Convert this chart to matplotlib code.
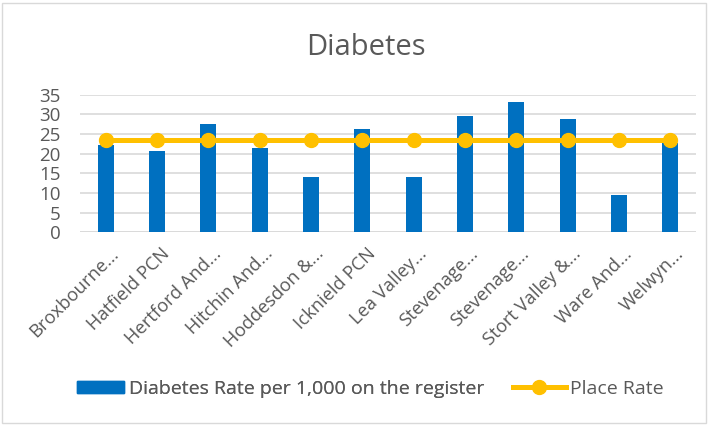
import matplotlib
matplotlib.use("Agg")
import matplotlib.pyplot as plt
from matplotlib.patches import Rectangle
from matplotlib.lines import Line2D
from matplotlib.transforms import ScaledTranslation

plt.rcParams['font.family'] = ['Open Sans', 'DejaVu Sans']

categories = ["Broxbourne...", "Hatfield PCN", "Hertford And...", "Hitchin And...",
              "Hoddesdon &...", "Icknield PCN", "Lea Valley...", "Stevenage...",
              "Stevenage...", "Stort Valley &...", "Ware And...", "Welwyn..."]
diabetes_rate = [22.2, 20.7, 27.6, 21.4, 14.0, 26.4, 14.1, 29.6, 33.2, 28.7, 9.5, 22.7]
place_rate = [23.6] * 12
yticks = [0, 5, 10, 15, 20, 25, 30, 35]

BLUE = "#0070C0"
GOLD = "#FFC000"
GREY_TXT = "#595959"
GRID = "#D9D9D9"

W, H = 709, 425
fig = plt.figure(figsize=(W / 100, H / 100), dpi=100)
ax = fig.add_axes([80 / W, 1 - 232.3 / H, 616 / W, 137.6 / H])

x = list(range(len(categories)))
ax.bar(x, diabetes_rate, width=0.31, color=BLUE, zorder=2)
ax.plot(x, place_rate, color=GOLD, lw=3.6, marker='o', markersize=10, zorder=3)

ax.set_xlim(-0.5, len(categories) - 0.5)
ax.set_ylim(0, 35)
ax.set_yticks(yticks)
ax.set_yticklabels([str(v) for v in yticks], fontsize=13.5, color=GREY_TXT)
ax.set_xticks(x)
ax.set_xticklabels(categories, rotation=45, ha='right', rotation_mode='anchor',
                   fontsize=13.2, color=GREY_TXT)
ax.tick_params(axis='both', length=0)
ax.tick_params(axis='y', pad=14)
ax.tick_params(axis='x', pad=9)
shift = ScaledTranslation(4 / 100, 0, fig.dpi_scale_trans)
for lab in ax.get_xticklabels():
    lab.set_transform(lab.get_transform() + shift)
ax.yaxis.grid(True, color=GRID, lw=1.2, zorder=0)
ax.set_axisbelow(True)
for s in ax.spines.values():
    s.set_visible(False)
ax.axhline(0, color=GRID, lw=1.2, zorder=1)

fig.text(365.5 / W, 1 - 55 / H, "Diabetes", fontsize=21, color=GREY_TXT,
         ha='center', va='baseline')

# two legend entries, each with its own handle length
leg_kw = dict(loc='center left', frameon=False, fontsize=14, labelcolor=GREY_TXT,
              borderpad=0, borderaxespad=0, handletextpad=0.25)
leg1 = fig.legend([Rectangle((0, 0), 1, 1, color=BLUE)],
                  ["Diabetes Rate per 1,000 on the register"],
                  bbox_to_anchor=(77 / W, 1 - 389 / H), handlelength=2.4,
                  handleheight=0.62, **leg_kw)
fig.add_artist(leg1)
fig.legend([Line2D([0], [0], color=GOLD, lw=3.6, marker='o', markersize=10)],
           ["Place Rate"], bbox_to_anchor=(513 / W, 1 - 389 / H),
           handlelength=2.7, **leg_kw)

fig.add_artist(Rectangle((2 / W, 2 / H), (W - 5) / W, (H - 5) / H,
                         transform=fig.transFigure, fill=False,
                         edgecolor=GRID, lw=1))

fig.savefig("out.png", dpi=100)
